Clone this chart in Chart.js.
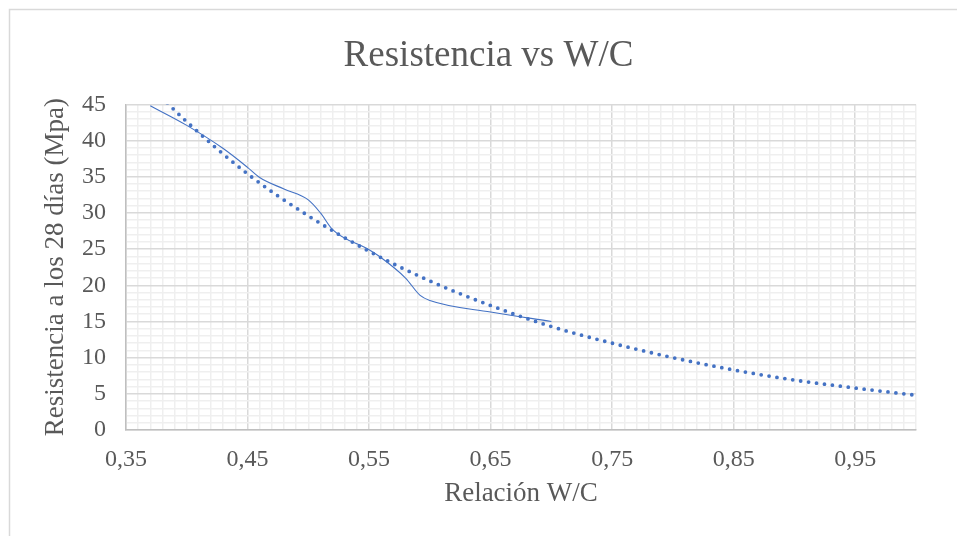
<!DOCTYPE html>
<html>
<head>
<meta charset="utf-8">
<script src="https://cdn.jsdelivr.net/npm/chart.js@4.4.1/dist/chart.umd.min.js"></script>
<style>
  html, body { margin: 0; padding: 0; background: #ffffff; }
  #wrap { width: 957px; height: 536px; position: relative; }
</style>
</head>
<body>
<div id="wrap"><canvas id="c" width="957" height="536"></canvas></div>
<script>
// ---- Data ----
const wcMeasured  = [0.37, 0.40, 0.43, 0.45, 0.46, 0.48, 0.50, 0.51, 0.52, 0.55, 0.56, 0.58, 0.592, 0.60, 0.65, 0.70];
const resMeasured = [44.8, 42.1, 38.9, 36.3, 34.9, 33.3, 31.8, 30.0, 27.7, 24.9, 23.8, 21.0, 18.6, 17.9, 16.3, 15.0];

const wcTrend  = [0.37, 0.40, 0.45, 0.50, 0.55, 0.60, 0.65, 0.70, 0.75, 0.80, 0.85, 0.90, 0.95, 1.00];
const resTrend = [47.5, 42.6, 35.4, 29.6, 24.7, 20.6, 17.2, 14.3, 12.0, 10.0, 8.3, 6.9, 5.8, 4.8];

const xTickValues = [0.35, 0.45, 0.55, 0.65, 0.75, 0.85, 0.95];
const xTickLabels = ['0,35', '0,45', '0,55', '0,65', '0,75', '0,85', '0,95'];
const yTickValues = [0, 5, 10, 15, 20, 25, 30, 35, 40, 45];
const yTickLabels = ['0', '5', '10', '15', '20', '25', '30', '35', '40', '45'];

const titleText = 'Resistencia vs W/C';
const xTitle = 'Relación W/C';
const yTitle = 'Resistencia a los 28 días (Mpa)';

// ---- Helpers ----
const toXY = (xs, ys) => xs.map((x, i) => ({ x: x, y: ys[i] }));
// minor grid positions (every 0.01 on x, every 1 on y)
const xGrid = [];
for (let i = 0; i <= 65; i++) xGrid.push(Math.round((0.35 + i * 0.01) * 1000) / 1000);
const yGrid = [];
for (let i = 0; i <= 45; i++) yGrid.push(i);

const FONT = "'Liberation Serif', 'Times New Roman', serif";
const TXT = '#595959';
const BLUE = '#4472C4';

const frame = {
  id: 'frame',
  beforeDraw(chart) {
    const ctx = chart.ctx;
    ctx.save();
    ctx.fillStyle = '#ffffff';
    ctx.fillRect(0, 0, chart.width, chart.height);
    ctx.strokeStyle = '#D9D9D9';
    ctx.lineWidth = 1.5;
    ctx.beginPath();
    ctx.moveTo(9.5, chart.height);
    ctx.lineTo(9.5, 9.5);
    ctx.lineTo(chart.width, 9.5);
    ctx.stroke();
    ctx.restore();
  }
};

new Chart(document.getElementById('c'), {
  type: 'line',
  data: {
    datasets: [
      {
        label: 'Resistencia',
        data: toXY(wcMeasured, resMeasured),
        borderColor: BLUE,
        backgroundColor: BLUE,
        borderWidth: 1.1,
        pointRadius: 0,
        cubicInterpolationMode: 'monotone',
        fill: false
      },
      {
        label: 'Tendencia',
        data: toXY(wcTrend, resTrend),
        borderColor: BLUE,
        backgroundColor: BLUE,
        borderWidth: 3.8,
        borderDash: [0, 8],
        borderCapStyle: 'round',
        pointRadius: 0,
        cubicInterpolationMode: 'monotone',
        fill: false
      }
    ]
  },
  options: {
    responsive: false,
    devicePixelRatio: 1,
    animation: false,
    layout: { padding: { left: 20, right: 0, top: 0, bottom: 0 } },
    plugins: {
      legend: { display: false },
      tooltip: { enabled: false },
      title: {
        display: true,
        text: titleText,
        color: TXT,
        font: { family: FONT, size: 37, weight: 'normal' },
        padding: { top: 34, bottom: 26 }
      }
    },
    scales: {
      x: {
        type: 'linear',
        position: 'bottom',
        min: 0.35,
        max: 1.0,
        afterBuildTicks: (s) => { s.ticks = xGrid.map(v => ({ value: v })); },
        afterFit: (s) => { s.height = 106; },
        ticks: {
          autoSkip: false,
          maxRotation: 0,
          minRotation: 0,
          padding: 15,
          color: TXT,
          font: { family: FONT, size: 24 },
          callback: (v, i) => {
            const k = xTickValues.findIndex(t => Math.abs(t - v) < 1e-6);
            return k >= 0 ? xTickLabels[k] : '';
          }
        },
        grid: {
          drawTicks: false,
          color: (c) => (c.index % 10 === 0 ? '#D9D9D9' : '#EFEFEF'),
          lineWidth: 1.5
        },
        border: { color: '#BFBFBF', width: 1.5 },
        title: {
          display: true,
          text: xTitle,
          color: TXT,
          font: { family: FONT, size: 27 },
          padding: { top: 0, bottom: 26 }
        }
      },
      y: {
        type: 'linear',
        position: 'left',
        min: 0,
        max: 45,
        afterBuildTicks: (s) => { s.ticks = yGrid.map(v => ({ value: v })); },
        afterFit: (s) => { s.width = 106; },
        ticks: {
          autoSkip: false,
          padding: 20,
          color: TXT,
          font: { family: FONT, size: 24 },
          callback: (v) => {
            const k = yTickValues.indexOf(v);
            return k >= 0 ? yTickLabels[k] : '';
          }
        },
        grid: {
          drawTicks: false,
          color: (c) => (c.index % 5 === 0 ? '#D9D9D9' : '#EFEFEF'),
          lineWidth: 1.5
        },
        border: { color: '#BFBFBF', width: 1.5 },
        title: {
          display: true,
          text: yTitle,
          color: TXT,
          font: { family: FONT, size: 27 },
          padding: { top: 20, bottom: 0 }
        }
      },
      yR: {
        type: 'linear',
        position: 'right',
        display: true,
        afterFit: (s) => { s.width = 41; },
        ticks: { display: false },
        grid: { display: false, drawOnChartArea: false },
        border: { display: false }
      }
    }
  },
  plugins: [frame]
});
</script>
</body>
</html>
